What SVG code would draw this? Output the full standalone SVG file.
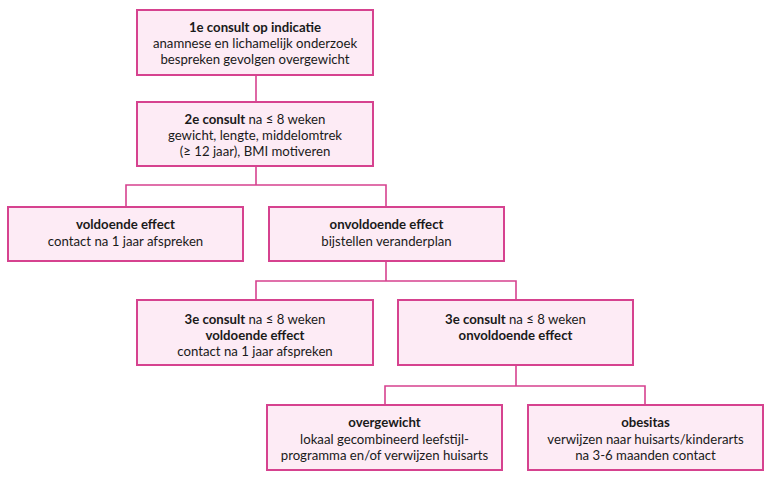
<svg xmlns="http://www.w3.org/2000/svg" width="776" height="483" viewBox="0 0 776 483">
<style>
.box{fill:#fdebf5;stroke:#d6428f;stroke-width:2}
.con{fill:none;stroke:#d6428f;stroke-width:1.6}
text{font-family:Lato,"Noto Sans","Liberation Sans",sans-serif;font-size:13.2px;fill:#1a1a1a;text-anchor:middle}
.b{font-weight:bold}
</style>
<rect width="776" height="483" fill="#ffffff"/>
<g id="connectors">
<line class="con" x1="256" y1="75" x2="256" y2="102"/>
<polyline class="con" points="256,166 256,185"/>
<polyline class="con" points="126,207 126,185 386,185 386,207"/>
<polyline class="con" points="386,261 386,281"/>
<polyline class="con" points="256,300 256,281 516,281 516,300"/>
<polyline class="con" points="516,365 516,386"/>
<polyline class="con" points="385,405 385,386 645,386 645,405"/>
</g>
<g id="n1">
<rect class="box" x="137" y="10" width="236" height="65"/>
<text x="255" y="32" class="b">1e consult op indicatie</text>
<text x="255" y="48">anamnese en lichamelijk onderzoek</text>
<text x="255" y="64">bespreken gevolgen overgewicht</text>
</g>
<g id="n2">
<rect class="box" x="137" y="102" width="236" height="64"/>
<text x="255" y="124"><tspan class="b">2e consult</tspan> na ≤ 8 weken</text>
<text x="255" y="140">gewicht, lengte, middelomtrek</text>
<text x="255" y="156">(≥ 12 jaar), BMI motiveren</text>
</g>
<g id="n3">
<rect class="box" x="8" y="207" width="235" height="54"/>
<text x="125.5" y="229" class="b">voldoende effect</text>
<text x="125.5" y="246">contact na 1 jaar afspreken</text>
</g>
<g id="n4">
<rect class="box" x="269" y="207" width="235" height="54"/>
<text x="386.5" y="229" class="b">onvoldoende effect</text>
<text x="386.5" y="246">bijstellen veranderplan</text>
</g>
<g id="n5">
<rect class="box" x="137" y="300" width="236" height="65"/>
<text x="255" y="324"><tspan class="b">3e consult</tspan> na ≤ 8 weken</text>
<text x="255" y="340" class="b">voldoende effect</text>
<text x="255" y="356">contact na 1 jaar afspreken</text>
</g>
<g id="n6">
<rect class="box" x="398" y="300" width="235" height="65"/>
<text x="515.5" y="324"><tspan class="b">3e consult</tspan> na ≤ 8 weken</text>
<text x="515.5" y="340" class="b">onvoldoende effect</text>
</g>
<g id="n7">
<rect class="box" x="267" y="405" width="235" height="65"/>
<text x="384.5" y="427" class="b">overgewicht</text>
<text x="384.5" y="444">lokaal gecombineerd leefstijl-</text>
<text x="384.5" y="460">programma en/of verwijzen huisarts</text>
</g>
<g id="n8">
<rect class="box" x="528" y="405" width="235" height="65"/>
<text x="645.5" y="427" class="b">obesitas</text>
<text x="645.5" y="444">verwijzen naar huisarts/kinderarts</text>
<text x="645.5" y="460">na 3-6 maanden contact</text>
</g>
</svg>
